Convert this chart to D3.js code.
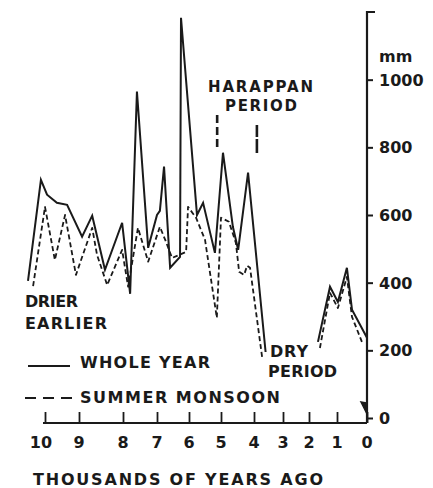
<!DOCTYPE html>
<html>
<head>
<meta charset="utf-8">
<script src="https://cdn.jsdelivr.net/npm/d3@7"></script>
<style>
  html, body { margin: 0; padding: 0; background: #fff; }
  svg { display: block; }
  text { font-family: "DejaVu Sans", sans-serif; font-weight: bold; fill: #1a1a1a; }
</style>
</head>
<body>
<svg id="chart" width="433" height="488"></svg>
<script>
// Rainfall reconstruction, thousands of years before present
const xTickAges = [10, 9, 8, 7, 6, 5, 4, 3, 2, 1, 0];
const xTickLabels = ["10", "9", "8", "7", "6", "5", "4", "3", "2", "1", "0"];
const yTickValues = [0, 200, 400, 600, 800, 1000];

// Whole-year rainfall (mm); null marks the gap in the record
const wholeYearAge = [10.5, 10.12, 9.94, 9.65, 9.35, 8.93, 8.70, 8.41, 8.02, 7.79, 7.59, 7.26, 7.0, 6.91, 6.78, 6.59, 6.28, 6.25, 5.75, 5.56, 5.19, 4.94, 4.64, 4.48, 4.18, 3.6, null, 1.68, 1.25, 0.97, 0.67, 0.5, 0.0];
const wholeYearMm  = [405, 704, 660, 636, 630, 536, 598, 438, 577, 367, 965, 503, 600, 612, 743, 444, 476, 1183, 600, 636, 488, 784, 565, 497, 725, 195, null, 225, 388, 343, 444, 320, 237];

// Summer-monsoon rainfall (mm)
const summerAge = [10.35, 10.0, 9.71, 9.41, 9.09, 8.70, 8.59, 8.36, 8.02, 7.85, 7.56, 7.26, 6.91, 6.72, 6.53, 6.09, 6.03, 5.78, 5.50, 5.13, 5.0, 4.76, 4.55, 4.45, 4.30, 4.21, 4.12, 3.72, null, 1.61, 1.25, 0.97, 0.67, 0.5, 0.17];
const summerMm  = [390, 624, 467, 600, 423, 562, 482, 393, 497, 388, 562, 462, 565, 521, 473, 491, 624, 592, 527, 296, 592, 580, 518, 432, 423, 450, 444, 180, null, 207, 370, 325, 417, 299, 225];

// Start and end of the Harappan period
const harappanAges = [5.12, 3.9];

const svg = d3.select("#chart");
const ink = "#1a1a1a";

// The time axis is not evenly spaced: one break per thousand years
const x = d3.scaleLinear()
  .domain(xTickAges)
  .range([45, 79, 123, 157, 189, 221, 254, 283, 309, 337, 367]);
const y = d3.scaleLinear().domain([0, 1200]).range([418, 12]);

const axisY = 423;
const axisX = x(0);

// Series
const toPoints = (ages, vals) => ages.map((a, i) => ({ a, v: vals[i] }));
const line = d3.line()
  .defined(d => d.a !== null && d.v !== null)
  .x(d => x(d.a))
  .y(d => y(d.v));

svg.append("path")
  .datum(toPoints(summerAge, summerMm))
  .attr("d", line)
  .attr("fill", "none")
  .attr("stroke", ink)
  .attr("stroke-width", 1.8)
  .attr("stroke-dasharray", "5,3")
  .attr("stroke-linejoin", "round");

svg.append("path")
  .datum(toPoints(wholeYearAge, wholeYearMm))
  .attr("d", line)
  .attr("fill", "none")
  .attr("stroke", ink)
  .attr("stroke-width", 2)
  .attr("stroke-linejoin", "miter");

// X axis
const xAxis = d3.axisTop(x)
  .tickValues(xTickAges)
  .tickSize(11)
  .tickFormat("");
const gx = svg.append("g").attr("transform", `translate(0,${axisY})`).call(xAxis);
gx.select(".domain").attr("d", `M43,0H${axisX}`).attr("stroke", ink).attr("stroke-width", 2);
gx.selectAll(".tick line").attr("stroke", ink).attr("stroke-width", 1.8);

svg.append("g").selectAll("text")
  .data(xTickAges)
  .join("text")
  .attr("x", d => x(d) + (d === 10 ? -4 : 0))
  .attr("y", 448)
  .attr("text-anchor", "middle")
  .attr("font-size", 16)
  .text((d, i) => xTickLabels[i]);

svg.append("text")
  .attr("x", 33).attr("y", 485)
  .attr("font-size", 16)
  .attr("textLength", 290).attr("lengthAdjust", "spacing")
  .text("THOUSANDS OF YEARS AGO");

// Y axis on the right
const yAxis = d3.axisRight(y)
  .tickValues(yTickValues)
  .tickSize(6)
  .tickFormat("");
const gy = svg.append("g").attr("transform", `translate(${axisX},0)`).call(yAxis);
gy.select(".domain").attr("d", `M8,${y(1200)}H0V${axisY}`).attr("stroke", ink).attr("stroke-width", 2.2).attr("fill", "none");
gy.selectAll(".tick line").attr("stroke", ink).attr("stroke-width", 2);

svg.append("g").selectAll("text")
  .data(yTickValues)
  .join("text")
  .attr("x", axisX + 12)
  .attr("y", d => y(d) + 6)
  .attr("font-size", 16)
  .text(d => d);

svg.append("text")
  .attr("x", axisX + 12).attr("y", 62)
  .attr("font-size", 16)
  .text("mm");

// Small mark at the foot of the rainfall axis
svg.append("path")
  .attr("d", `M${axisX - 6},${axisY - 21}L${axisX},${axisY - 9}L${axisX - 1},${axisY - 20}Z`)
  .attr("fill", ink).attr("stroke", ink).attr("stroke-width", 1.5);

// Harappan period bounds
svg.append("line")
  .attr("x1", x(harappanAges[0])).attr("x2", x(harappanAges[0]))
  .attr("y1", 115).attr("y2", 148)
  .attr("stroke", ink).attr("stroke-width", 2.6)
  .attr("stroke-dasharray", "8,4");
svg.append("line")
  .attr("x1", x(harappanAges[1])).attr("x2", x(harappanAges[1]))
  .attr("y1", 125).attr("y2", 153)
  .attr("stroke", ink).attr("stroke-width", 2.6)
  .attr("stroke-dasharray", "12,2,14");

// Annotations
const label = (txt, xPos, yPos, len, size = 16) => svg.append("text")
  .attr("x", xPos).attr("y", yPos)
  .attr("font-size", size)
  .attr("textLength", len).attr("lengthAdjust", "spacing")
  .text(txt);

label("HARAPPAN", 208, 92, 105, 15);
label("PERIOD", 225, 111, 72, 15);
label("DRIER", 25, 307, 53);
label("EARLIER", 25, 329, 82);
label("DRY", 270, 357, 38);
label("PERIOD", 268, 377, 69);

// Legend
svg.append("line")
  .attr("x1", 28).attr("x2", 70).attr("y1", 366).attr("y2", 366)
  .attr("stroke", ink).attr("stroke-width", 2);
label("WHOLE YEAR", 80, 368, 130);

svg.append("line")
  .attr("x1", 25).attr("x2", 72).attr("y1", 398).attr("y2", 398)
  .attr("stroke", ink).attr("stroke-width", 2)
  .attr("stroke-dasharray", "11,7");
label("SUMMER MONSOON", 80, 403, 200);
</script>
</body>
</html>
